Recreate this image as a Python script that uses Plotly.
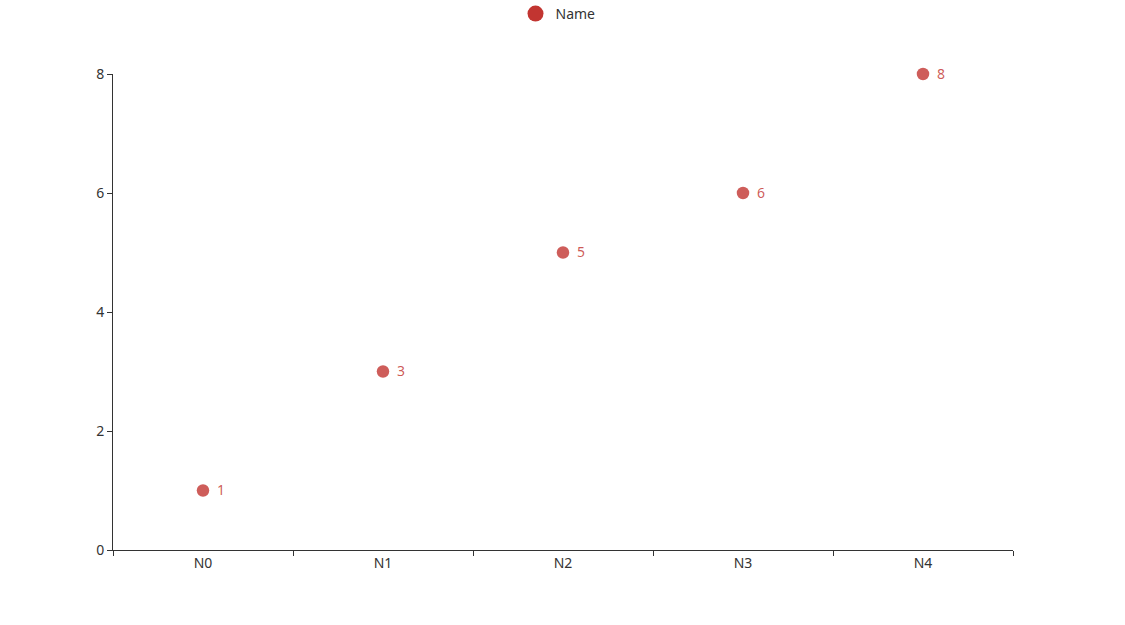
import plotly.graph_objects as go

categories = ["N0", "N1", "N2", "N3", "N4"]
values = [1, 3, 5, 6, 8]
series_name = "Name"

RED = "#c23531"
FONT = "Noto Sans, Open Sans, sans-serif"

fig = go.Figure()
fig.add_trace(go.Scatter(
    x=categories, y=values, mode="markers",
    marker=dict(size=12.5, color=RED, opacity=0.8),
    showlegend=False, hoverinfo="x+y", cliponaxis=False,
))
# legend entry
fig.add_trace(go.Scatter(
    x=[None], y=[None], mode="markers", name=series_name,
    marker=dict(size=16, color=RED), showlegend=True,
))

for c, v in zip(categories, values):
    fig.add_annotation(x=c, y=v, text=str(v), showarrow=False, xanchor="left",
                       yanchor="middle", xshift=12, yshift=1,
                       font=dict(color="rgba(194,53,49,0.82)", size=14, family=FONT))

fig.update_layout(
    width=1125, height=625,
    margin=dict(l=113, r=112, t=74, b=75),
    plot_bgcolor="white", paper_bgcolor="white",
    font=dict(family=FONT, size=13, color="#333"),
    legend=dict(orientation="h", x=0.5 - 5 / 900, xanchor="center", xref="paper",
                yref="container", y=1 - 14 / 625, yanchor="middle",
                font=dict(size=14, color="#333"), itemsizing="trace"),
    xaxis=dict(type="category", categoryorder="array", categoryarray=categories,
               range=[-0.5, 4.5], showline=True, linecolor="#333", linewidth=1,
               ticks="outside", tickson="boundaries", ticklen=5, tickcolor="#333",
               showgrid=False, zeroline=False, tickfont=dict(size=14, color="#333")),
    yaxis=dict(range=[0, 8], dtick=2, showline=True, linecolor="#333", linewidth=1,
               ticks="outside", ticklen=5, tickcolor="#333", showgrid=False,
               zeroline=False, tickfont=dict(size=14, color="#333")),
)

fig.write_html("out.html", config={"displayModeBar": False},
               post_script="document.body.style.margin='0';")
